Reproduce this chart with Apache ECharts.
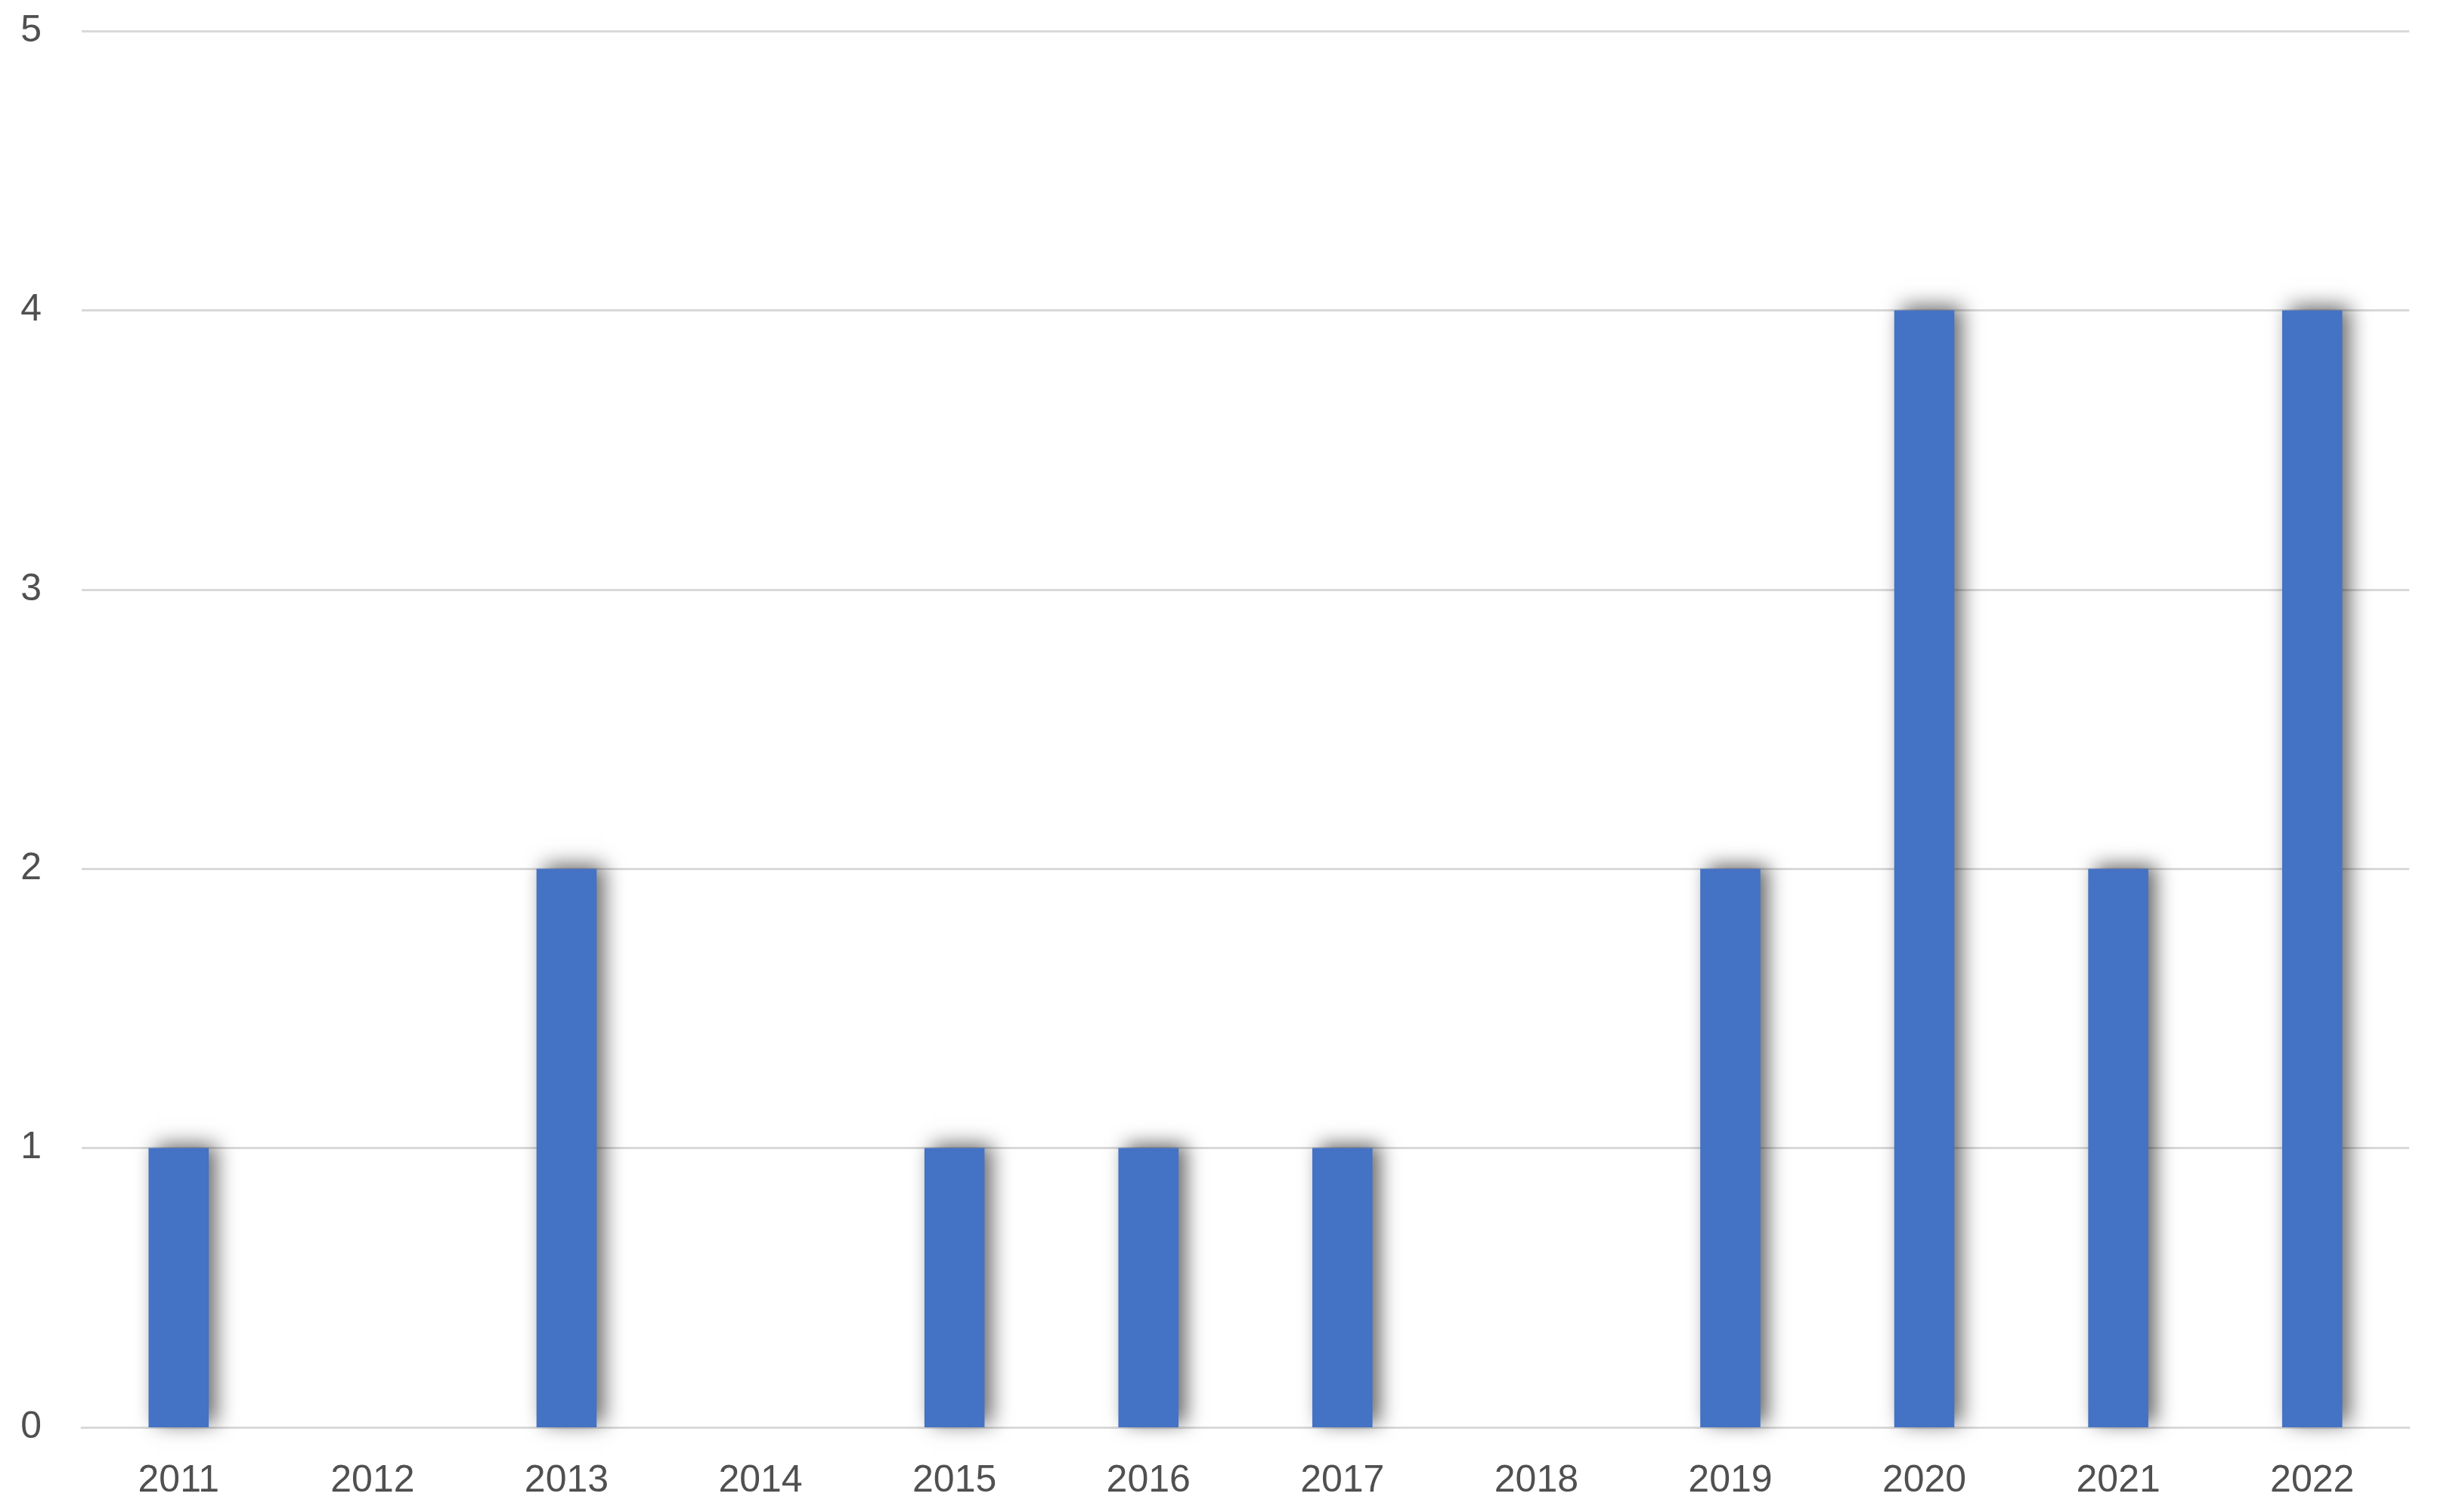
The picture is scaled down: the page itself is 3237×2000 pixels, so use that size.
<!DOCTYPE html>
<html>
<head>
<meta charset="utf-8">
<script src="https://cdn.jsdelivr.net/npm/echarts@6/dist/echarts.min.js"></script>
<style>
    html, body { margin: 0; padding: 0; background: #fff; }
    #chart { width: 3237px; height: 2000px; }
</style>
</head>
<body>
<div id="chart"></div>
<script>
    // 年份和数量
    var years = ['2011', '2012', '2013', '2014', '2015', '2016', '2017', '2018', '2019', '2020', '2021', '2022'];
    var counts = [1, 0, 2, 0, 1, 1, 1, 0, 2, 4, 2, 4];
    var yTicks = [0, 1, 2, 3, 4, 5];

    var labelFont = 'Liberation Sans';
    var myChart = echarts.init(document.getElementById('chart'));
    var option = {
        animation: false,
        backgroundColor: '#ffffff',
        grid: {
            left: 108,
            right: 50,
            top: 41,
            bottom: 112,
            containLabel: false
        },
        xAxis: {
            type: 'category',
            data: years,
            axisLine: { show: true, lineStyle: { color: '#d9d9d9', width: 3 } },
            axisTick: { show: false },
            axisLabel: {
                color: '#505050',
                fontFamily: labelFont,
                fontSize: 50,
                margin: 46
            }
        },
        yAxis: {
            type: 'value',
            min: yTicks[0],
            max: yTicks[yTicks.length - 1],
            interval: 1,
            axisLine: { show: false },
            axisTick: { show: false },
            splitLine: { lineStyle: { color: '#d9d9d9', width: 3 } },
            axisLabel: {
                color: '#505050',
                fontFamily: labelFont,
                fontSize: 50,
                margin: 53
            }
        },
        series: [{
            type: 'bar',
            data: counts,
            barWidth: '31%',
            itemStyle: {
                color: '#4472c4',
                shadowColor: 'rgba(0,0,0,0.6)',
                shadowBlur: 26,
                shadowOffsetX: 10,
                shadowOffsetY: -5
            }
        }]
    };
    myChart.setOption(option, true);
</script>
</body>
</html>
